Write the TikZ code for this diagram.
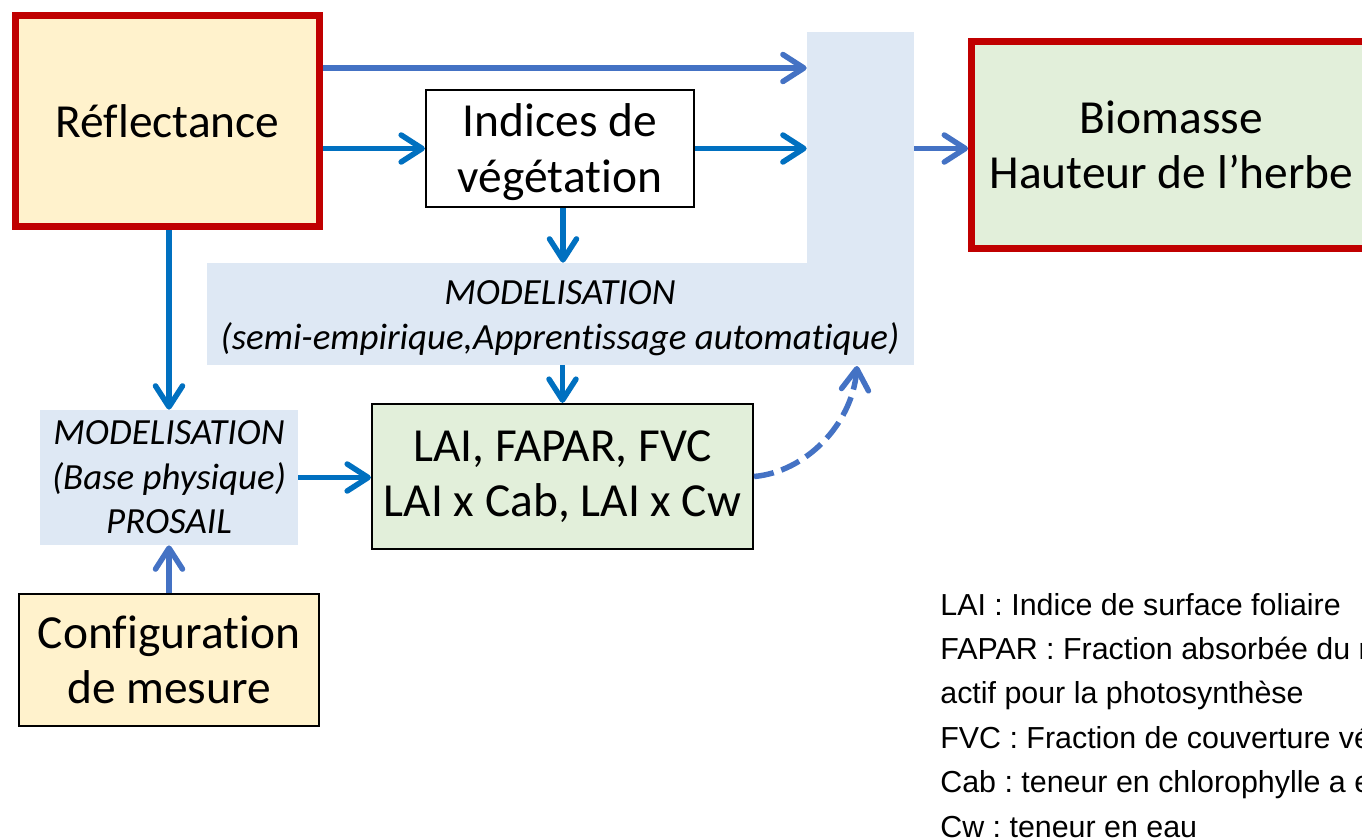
\documentclass[tikz,border=0pt]{standalone}
\usepackage{fontspec}
\setmainfont[Ligatures={NoCommon,NoContextual}]{Carlito}
\newfontfamily\arialf{Liberation Sans}
\newcommand\tx{t\kern0pt }
\frenchspacing
\usetikzlibrary{arrows.meta}
\definecolor{redB}{HTML}{C00000}
\definecolor{yellowF}{HTML}{FFF2CC}
\definecolor{greenF}{HTML}{E2EFDA}
\definecolor{blueF}{HTML}{DEE8F4}
\definecolor{blueA}{HTML}{0070C0}
\definecolor{blueB}{HTML}{4472C4}
\tikzset{
  bigtxt/.style={font=\fontsize{27}{31.5}\selectfont, align=center},
  ittxt/.style={font=\fontsize{21}{25.4}\selectfont\itshape, align=center},
  redbox/.style={draw=redB, line width=0.14cm, fill=#1, inner sep=0pt, bigtxt},
  blackbox/.style={draw=black, line width=0.045cm, fill=#1, inner sep=0pt, bigtxt},
  bluezone/.style={fill=blueF, inner sep=0pt, ittxt},
  arrA/.style={draw=blueA, line width=0.11cm, -{Straight Barb[length=0.42cm,width=0.54cm,round]}},
  arrB/.style={arrA, draw=blueB},
  legtxt/.style={font=\arialf\fontsize{17.3}{20}\selectfont, anchor=base west, inner sep=0pt}
}
\begin{document}
\begin{tikzpicture}[x=0.02cm,y=-0.02cm]
\useasboundingbox (0,0) rectangle (1362,839);
\clip (0,0) rectangle (1362,839);
% blue zones
\node[bluezone, minimum width=2.14cm, minimum height=6.66cm] (vert) at (860.5,198.5) {};
\node[bluezone, minimum width=14.14cm, minimum height=2.04cm] (band) at (560.5,314) {};
\node[ittxt] (bandtxt) at (560,318)
  {MODELISATION\\(semi-empirique,Appren\tx issage automa\tx ique)};
\node[bluezone, minimum width=5.16cm, minimum height=2.70cm] (lmod) at (169,477.5)
  {MODELISATION\\(Base physique)\\PROSAIL};
% boxes
\node[redbox=yellowF, minimum width=6.08cm, minimum height=4.22cm] (refl) at (167.5,121) {Réflectance};
\node[redbox=greenF, minimum width=8.0cm, minimum height=4.14cm] (bio) at (1171.5,145)
  {Biomasse\\Hauteur de l’herbe};
\node[blackbox=white, minimum width=5.36cm, minimum height=2.34cm] (ind) at (560,148.5) {};
\node[bigtxt] (indtxt) at (560,152) {Indices de\\végéta\tx ion};
\node[blackbox=greenF, minimum width=7.62cm, minimum height=2.90cm] (lai) at (562.5,476.5)
  {LAI, FAPAR, FVC\\LAI x Cab, LAI x Cw};
\node[blackbox=yellowF, minimum width=6.0cm, minimum height=2.64cm] (conf) at (169,660)
  {Configura\tx ion\\de mesure};
% helper coordinates
\coordinate (ytop) at (0,68);
\coordinate (dashend) at (857,366);
% connectors
\draw[arrB] (refl.east |- ytop) -- (vert.west |- ytop);
\draw[arrA] (refl.east |- ind.west) -- (ind.west);
\draw[arrA] (ind.east) -- (vert.west |- ind.east);
\draw[arrB] (vert.east |- ind.east) -- (bio.west |- ind.east);
\draw[arrA] ([xshift=0.06cm]ind.south) -- ([xshift=0.06cm]ind.south |- band.north);
\draw[arrA] (band.south -| lai.north) -- (lai.north);
\draw[arrA] (lmod.north |- refl.south) -- (lmod.north);
\draw[arrA] (lmod.east) -- (lmod.east -| lai.west);
\draw[arrB] (conf.north) -- (lmod.south);
\draw[arrB, dash pattern=on 0.4cm off 0.16cm] (lai.east) .. controls (805,472) and (852,425) .. (dashend);
% legend
\node[legtxt] (leg1) at (940,615) {LAI : Indice de surface foliaire};
\node[legtxt] (leg2) at (940,659.4) {FAPAR : Fraction absorbée du rayonnement};
\node[legtxt] (leg3) at (940,703.8) {actif pour la photosynthèse};
\node[legtxt] (leg4) at (940,748.2) {FVC : Fraction de couverture végétale};
\node[legtxt] (leg5) at (940,792.6) {Cab : teneur en chlorophylle a et b};
\node[legtxt] (leg6) at (940,837) {Cw : teneur en eau};
\end{tikzpicture}
\end{document}
